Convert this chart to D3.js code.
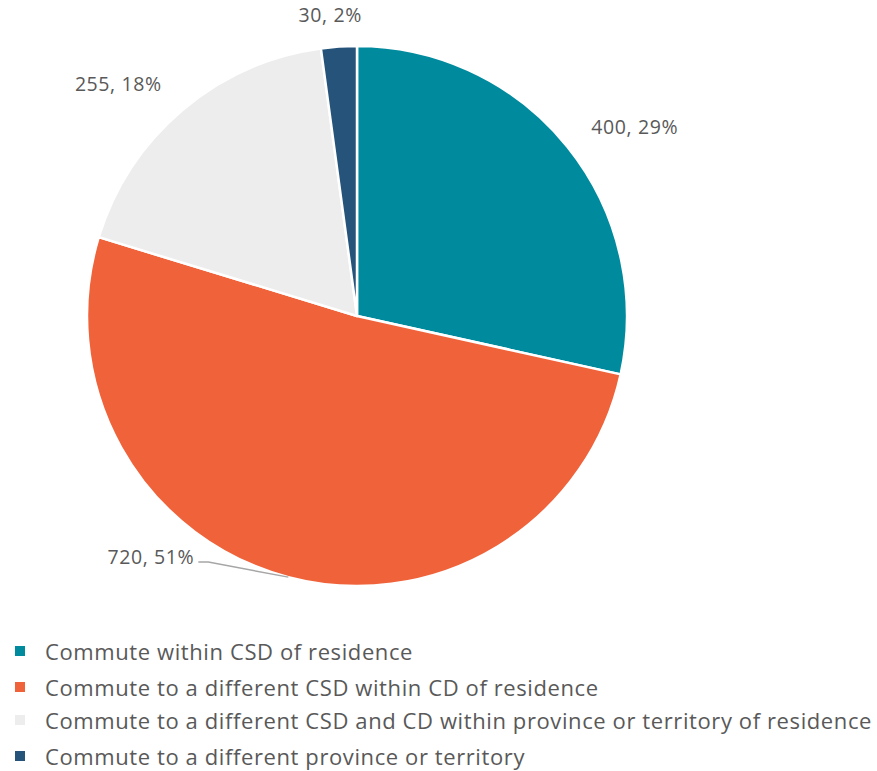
<!DOCTYPE html>
<html>
<head>
<meta charset="utf-8">
<script src="https://cdn.jsdelivr.net/npm/d3@7"></script>
<style>
  body { margin: 0; background: #fff; }
  svg text { font-family: "Open Sans", Lato, sans-serif; fill: #595959; }
</style>
</head>
<body>
<svg id="chart" width="877" height="771"></svg>
<script>
// Commuting destination counts
const categories = [
  "Commute within CSD of residence",
  "Commute to a different CSD within CD of residence",
  "Commute to a different CSD and CD within province or territory of residence",
  "Commute to a different province or territory"
];
const values = [400, 720, 255, 30];
const percentLabels = ["29%", "51%", "18%", "2%"];
const colors = ["#008A9E", "#F0623A", "#EDEDED", "#26537A"];

const svg = d3.select("#chart");
const cx = 357, cy = 316, radius = 270;

const pie = d3.pie().sort(null).value(d => d.value);
const arcs = pie(categories.map((c, i) => ({ name: c, value: values[i], pct: percentLabels[i], color: colors[i] })));
const arc = d3.arc().innerRadius(0).outerRadius(radius);

const g = svg.append("g").attr("transform", `translate(${cx},${cy})`);
g.selectAll("path")
  .data(arcs)
  .join("path")
  .attr("d", arc)
  .attr("fill", d => d.data.color)
  .attr("stroke", "#fff")
  .attr("stroke-width", 2.5)
  .attr("stroke-linejoin", "round");

// Data labels placed outside the pie, nudged per slice
const labelArc = d3.arc().innerRadius(radius + 40).outerRadius(radius + 40);
const labelOffsets = [
  { dx: 36, dy: 5 },
  { dx: 0, dy: 0 },
  { dx: -38, dy: 4 },
  { dx: -6, dy: 8 }
];
arcs.forEach((d, i) => {
  let x, y, anchor = "middle";
  if (i === 1) {
    // bottom-left label with leader line
    const a = (d.startAngle + d.endAngle) / 2;
    const ex = Math.sin(a) * radius, ey = -Math.cos(a) * radius;
    const px = ex - 80, py = ey - 15;
    g.append("polyline")
      .attr("points", `${px - 10},${py} ${px},${py} ${ex},${ey}`)
      .attr("fill", "none")
      .attr("stroke", "#A6A6A6")
      .attr("stroke-width", 1.5);
    x = px - 14; y = py - 6; anchor = "end";
  } else {
    const c = labelArc.centroid(d);
    x = c[0] + labelOffsets[i].dx; y = c[1] + labelOffsets[i].dy;
  }
  g.append("text")
    .attr("x", x).attr("y", y)
    .attr("text-anchor", anchor)
    .attr("dominant-baseline", "central")
    .attr("font-size", 19.5)
    .attr("letter-spacing", 0.6)
    .text(`${d.data.value}, ${d.data.pct}`);
});

// Legend
const legend = svg.append("g").attr("transform", "translate(15,651)");
const rowY = [0, 36, 69, 105];
categories.forEach((c, i) => {
  const row = legend.append("g").attr("transform", `translate(0,${rowY[i]})`);
  row.append("rect").attr("x", 0).attr("y", -5).attr("width", 10).attr("height", 10).attr("fill", colors[i]);
  row.append("text").attr("x", 30).attr("y", 0)
    .attr("dominant-baseline", "central")
    .attr("font-size", 22)
    .attr("letter-spacing", 0.6)
    .text(c);
});
</script>
</body>
</html>
